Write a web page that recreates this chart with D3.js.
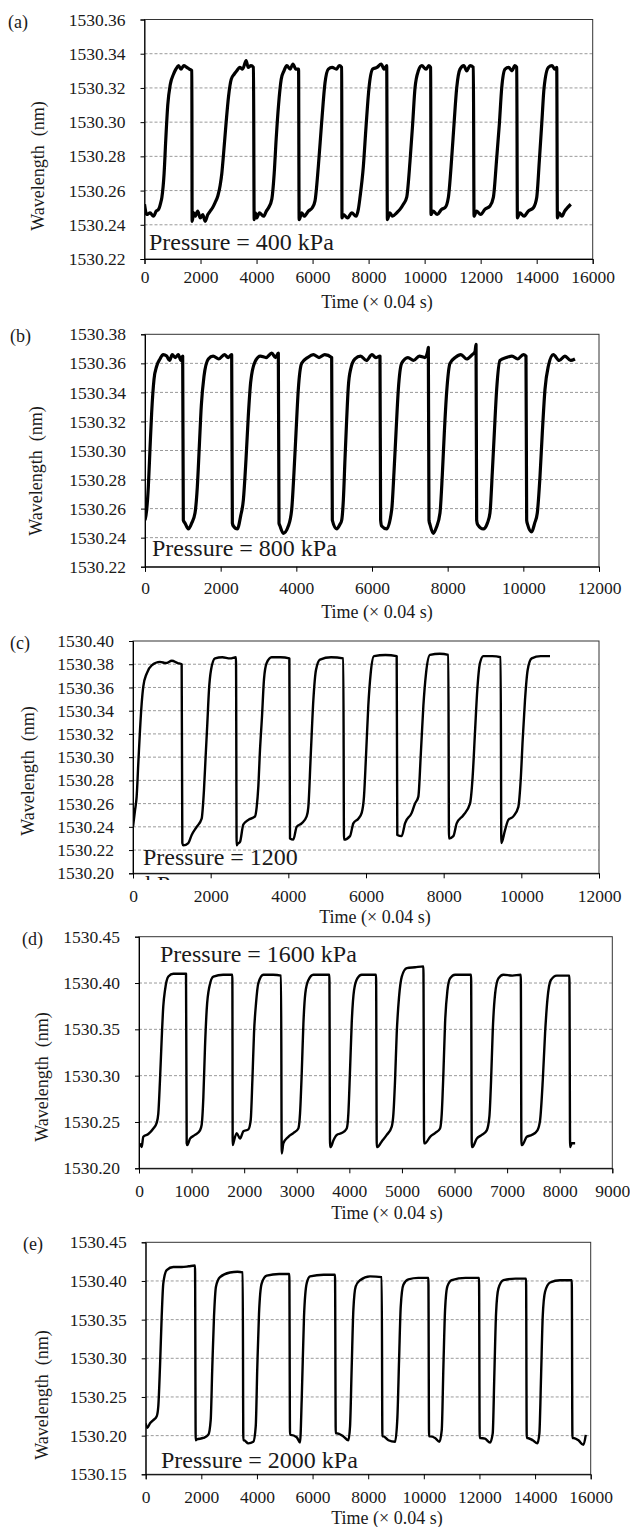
<!DOCTYPE html>
<html>
<head>
<meta charset="utf-8">
<script src="https://cdnjs.cloudflare.com/ajax/libs/d3/7.8.5/d3.min.js"></script>
<style>
body { margin: 0; background: #fff; }
svg text { font-family: "Liberation Serif", "Times New Roman", serif; fill: #1a1a1a; }
</style>
</head>
<body>
<div id="chart"></div>
<script>
// wavelength traces, [time (x 0.04 s), wavelength (nm)]
var seriesA = [[0,1530.252],[80,1530.246],[200,1530.247],[320,1530.245],[420,1530.248],[500,1530.249],[580,1530.253],[620,1530.256],[700,1530.270],[760,1530.290],[830,1530.310],[920,1530.322],[1035,1530.328],[1120,1530.331],[1215,1530.333],[1300,1530.331],[1400,1530.333],[1510,1530.332],[1600,1530.331],[1690,1530.330],
  [1700,1530.242],[1760,1530.247],[1810,1530.245],[1900,1530.248],[1990,1530.244],[2080,1530.246],[2165,1530.242],[2260,1530.246],[2345,1530.248],[2430,1530.250],[2520,1530.253],[2620,1530.257],[2700,1530.263],[2760,1530.270],[2820,1530.281],[2915,1530.300],[3000,1530.315],[3095,1530.325],[3200,1530.328],[3295,1530.330],[3400,1530.332],[3500,1530.331],[3630,1530.336],[3700,1530.332],[3800,1530.333],[3890,1530.332],
  [3915,1530.243],[3960,1530.247],[4010,1530.244],[4100,1530.247],[4250,1530.245],[4350,1530.248],[4430,1530.250],[4545,1530.255],[4630,1530.270],[4700,1530.290],[4785,1530.310],[4880,1530.325],[4980,1530.330],[5080,1530.333],[5200,1530.331],[5300,1530.334],[5400,1530.331],[5500,1530.331],
  [5520,1530.243],[5615,1530.247],[5700,1530.245],[5850,1530.248],[5990,1530.250],[6087,1530.254],[6205,1530.274],[6325,1530.300],[6444,1530.323],[6562,1530.331],[6700,1530.332],[6850,1530.331],[6950,1530.333],[7040,1530.332],
  [7050,1530.244],[7098,1530.246],[7250,1530.244],[7400,1530.247],[7550,1530.245],[7633,1530.249],[7693,1530.256],[7812,1530.274],[7907,1530.297],[8014,1530.320],[8146,1530.331],[8300,1530.332],[8450,1530.334],[8550,1530.331],[8646,1530.333],
  [8670,1530.243],[8760,1530.247],[8850,1530.245],[9002,1530.247],[9120,1530.249],[9240,1530.252],[9359,1530.256],[9478,1530.277],[9573,1530.299],[9657,1530.320],[9776,1530.330],[9900,1530.333],[10050,1530.331],[10150,1530.333],[10216,1530.332],
  [10228,1530.246],[10300,1530.248],[10450,1530.246],[10600,1530.249],[10728,1530.250],[10847,1530.256],[10966,1530.279],[11050,1530.299],[11145,1530.320],[11264,1530.331],[11400,1530.333],[11500,1530.330],[11620,1530.333],[11740,1530.332],
  [11764,1530.245],[11850,1530.248],[12000,1530.246],[12150,1530.249],[12335,1530.251],[12454,1530.256],[12573,1530.279],[12668,1530.299],[12752,1530.320],[12871,1530.331],[13000,1530.332],[13120,1530.330],[13220,1530.333],[13288,1530.332],
  [13312,1530.244],[13400,1530.247],[13550,1530.245],[13700,1530.248],[13883,1530.250],[14002,1530.256],[14097,1530.278],[14181,1530.299],[14264,1530.320],[14418,1530.332],[14550,1530.333],[14650,1530.331],[14716,1530.332],
  [14740,1530.244],[14800,1530.247],[14900,1530.245],[15000,1530.248],[15100,1530.250],[15217,1530.252]];

var seriesB = [[0,1530.252],[44,1530.259],[88,1530.275],[132,1530.301],[176,1530.326],[238,1530.349],[308,1530.358],[396,1530.363],[480,1530.366],[573,1530.365],[650,1530.362],[720,1530.366],[800,1530.364],[880,1530.366],[950,1530.362],[996,1530.365],
  [1013,1530.252],[1057,1530.250],[1145,1530.246],[1233,1530.250],[1322,1530.257],[1383,1530.275],[1436,1530.303],[1489,1530.331],[1559,1530.351],[1674,1530.363],[1800,1530.365],[1950,1530.363],[2100,1530.366],[2200,1530.364],[2291,1530.366],
  [2309,1530.250],[2335,1530.248],[2441,1530.246],[2529,1530.255],[2600,1530.266],[2670,1530.294],[2731,1530.324],[2793,1530.347],[2907,1530.361],[3050,1530.365],[3200,1530.364],[3350,1530.367],[3450,1530.364],[3524,1530.367],
  [3542,1530.250],[3568,1530.248],[3656,1530.243],[3788,1530.248],[3876,1530.259],[3938,1530.285],[3991,1530.312],[4052,1530.342],[4141,1530.360],[4300,1530.364],[4450,1530.366],[4600,1530.364],[4750,1530.366],[4934,1530.364],
  [4951,1530.252],[5067,1530.246],[5150,1530.249],[5199,1530.252],[5243,1530.266],[5286,1530.294],[5330,1530.321],[5374,1530.344],[5436,1530.356],[5550,1530.363],[5700,1530.365],[5850,1530.362],[6000,1530.366],[6100,1530.364],[6211,1530.365],
  [6228,1530.252],[6255,1530.248],[6387,1530.246],[6520,1530.259],[6581,1530.285],[6634,1530.312],[6696,1530.342],[6784,1530.360],[6950,1530.364],[7100,1530.362],[7250,1530.365],[7400,1530.364],[7470,1530.368],[7489,1530.371],
  [7506,1530.252],[7533,1530.249],[7620,1530.243],[7700,1530.247],[7797,1530.257],[7858,1530.283],[7911,1530.312],[7973,1530.340],[8061,1530.360],[8200,1530.364],[8350,1530.366],[8500,1530.363],[8650,1530.366],[8722,1530.368],[8750,1530.373],
  [8766,1530.252],[8793,1530.249],[8942,1530.246],[9050,1530.250],[9118,1530.257],[9180,1530.285],[9233,1530.312],[9295,1530.342],[9383,1530.362],[9550,1530.364],[9700,1530.365],[9850,1530.363],[10000,1530.366],[10070,1530.365],
  [10088,1530.252],[10114,1530.249],[10220,1530.244],[10300,1530.250],[10369,1530.257],[10440,1530.282],[10501,1530.312],[10572,1530.342],[10660,1530.358],[10792,1530.366],[10950,1530.362],[11100,1530.365],[11250,1530.362],[11365,1530.363]];

var seriesC = [[0,1530.240],[51,1530.254],[94,1530.266],[137,1530.295],[180,1530.323],[223,1530.346],[266,1530.361],[352,1530.372],[481,1530.379],[695,1530.382],[850,1530.381],[1000,1530.383],[1150,1530.381],[1253,1530.380],
  [1270,1530.226],[1296,1530.224],[1425,1530.226],[1511,1530.233],[1640,1530.240],[1768,1530.247],[1794,1530.255],[1828,1530.272],[1871,1530.301],[1914,1530.329],[1957,1530.358],[2009,1530.375],[2112,1530.385],[2300,1530.386],[2500,1530.385],[2652,1530.386],
  [2669,1530.224],[2686,1530.225],[2755,1530.227],[2841,1530.242],[2970,1530.246],[3142,1530.249],[3185,1530.257],[3228,1530.275],[3270,1530.306],[3322,1530.335],[3373,1530.367],[3442,1530.381],[3571,1530.386],[3800,1530.386],[4026,1530.385],
  [4043,1530.230],[4128,1530.229],[4214,1530.240],[4343,1530.243],[4472,1530.249],[4515,1530.257],[4575,1530.300],[4644,1530.349],[4712,1530.375],[4815,1530.384],[5100,1530.386],[5416,1530.385],
  [5433,1530.229],[5588,1530.232],[5674,1530.243],[5802,1530.247],[5889,1530.252],[5948,1530.266],[6000,1530.301],[6059,1530.344],[6120,1530.372],[6206,1530.387],[6500,1530.388],[6790,1530.387],
  [6806,1530.233],[6919,1530.232],[7004,1530.243],[7177,1530.252],[7262,1530.260],[7348,1530.266],[7409,1530.301],[7477,1530.344],[7545,1530.372],[7648,1530.388],[7900,1530.389],[8120,1530.388],
  [8137,1530.230],[8249,1530.232],[8335,1530.243],[8506,1530.250],[8678,1530.260],[8746,1530.283],[8806,1530.321],[8866,1530.358],[8935,1530.381],[9021,1530.387],[9250,1530.387],[9467,1530.386],
  [9485,1530.226],[9579,1530.237],[9665,1530.246],[9794,1530.249],[9922,1530.257],[9983,1530.280],[10035,1530.315],[10094,1530.349],[10163,1530.375],[10266,1530.385],[10500,1530.387],[10738,1530.387]];

var seriesD = [[19,1530.227],[51,1530.223],[82,1530.234],[177,1530.237],[273,1530.243],[336,1530.249],[367,1530.259],[399,1530.295],[431,1530.339],[462,1530.375],[494,1530.392],[558,1530.407],[653,1530.410],[780,1530.410],[894,1530.410],
  [907,1530.227],[919,1530.225],[970,1530.232],[1065,1530.236],[1160,1530.241],[1192,1530.247],[1224,1530.277],[1255,1530.331],[1287,1530.371],[1338,1530.396],[1414,1530.407],[1600,1530.409],[1775,1530.409],
  [1782,1530.225],[1794,1530.227],[1858,1530.238],[1921,1530.232],[1985,1530.240],[2080,1530.242],[2124,1530.252],[2156,1530.295],[2187,1530.346],[2225,1530.378],[2270,1530.400],[2365,1530.409],[2550,1530.409],[2701,1530.408],
  [2714,1530.216],[2745,1530.227],[2840,1530.234],[2935,1530.238],[3030,1530.243],[3062,1530.259],[3094,1530.302],[3126,1530.356],[3163,1530.389],[3220,1530.403],[3315,1530.409],[3500,1530.409],[3620,1530.409],
  [3633,1530.223],[3646,1530.223],[3696,1530.230],[3760,1530.236],[3855,1530.238],[3950,1530.243],[3981,1530.259],[4013,1530.306],[4045,1530.357],[4089,1530.392],[4152,1530.405],[4235,1530.409],[4400,1530.409],[4508,1530.409],
  [4521,1530.223],[4533,1530.223],[4616,1530.229],[4711,1530.236],[4806,1530.245],[4838,1530.259],[4869,1530.295],[4901,1530.346],[4945,1530.385],[4997,1530.407],[5092,1530.416],[5250,1530.417],[5408,1530.418],
  [5421,1530.227],[5440,1530.227],[5535,1530.234],[5630,1530.238],[5725,1530.243],[5757,1530.259],[5788,1530.302],[5820,1530.357],[5865,1530.392],[5915,1530.405],[6010,1530.409],[6200,1530.409],[6315,1530.409],
  [6328,1530.223],[6340,1530.223],[6423,1530.232],[6518,1530.236],[6613,1530.241],[6663,1530.256],[6695,1530.295],[6727,1530.349],[6771,1530.388],[6834,1530.405],[6929,1530.409],[7100,1530.408],[7260,1530.409],
  [7272,1530.225],[7285,1530.225],[7374,1530.234],[7469,1530.236],[7576,1530.241],[7627,1530.252],[7678,1530.295],[7722,1530.346],[7766,1530.382],[7830,1530.403],[7944,1530.408],[8100,1530.408],[8184,1530.408],
  [8198,1530.223],[8230,1530.227],[8293,1530.227]];

var seriesE = [[0,1530.216],[58,1530.210],[155,1530.216],[273,1530.220],[396,1530.225],[453,1530.238],[514,1530.289],[575,1530.354],[633,1530.397],[755,1530.414],[993,1530.418],[1300,1530.418],[1550,1530.419],[1773,1530.420],
  [1798,1530.194],[1834,1530.195],[2071,1530.197],[2251,1530.201],[2337,1530.220],[2395,1530.289],[2456,1530.354],[2528,1530.393],[2672,1530.405],[3031,1530.411],[3300,1530.412],[3488,1530.411],
  [3510,1530.194],[3535,1530.194],[3690,1530.190],[3869,1530.192],[3956,1530.212],[4013,1530.289],[4074,1530.358],[4171,1530.397],[4351,1530.407],[4800,1530.409],[5164,1530.409],
  [5189,1530.201],[5213,1530.201],[5429,1530.198],[5549,1530.191],[5609,1530.246],[5692,1530.354],[5789,1530.397],[5908,1530.406],[6400,1530.408],[6807,1530.408],
  [6833,1530.203],[6868,1530.203],[7107,1530.199],[7287,1530.194],[7347,1530.212],[7407,1530.289],[7467,1530.363],[7551,1530.393],[7706,1530.401],[8066,1530.406],[8486,1530.405],
  [8510,1530.199],[8546,1530.199],[8726,1530.194],[8966,1530.192],[9050,1530.224],[9110,1530.298],[9170,1530.367],[9265,1530.395],[9445,1530.402],[9800,1530.404],[10164,1530.404],
  [10188,1530.199],[10224,1530.199],[10404,1530.197],[10560,1530.192],[10644,1530.207],[10704,1530.289],[10764,1530.363],[10847,1530.393],[11004,1530.401],[11500,1530.404],[11985,1530.404],
  [12009,1530.197],[12033,1530.197],[12201,1530.196],[12381,1530.191],[12477,1530.203],[12537,1530.281],[12597,1530.358],[12681,1530.390],[12861,1530.401],[13300,1530.403],[13676,1530.403],
  [13700,1530.197],[13724,1530.197],[13916,1530.194],[14083,1530.190],[14155,1530.203],[14215,1530.276],[14275,1530.354],[14359,1530.386],[14539,1530.398],[14900,1530.401],[15319,1530.401],
  [15343,1530.197],[15379,1530.197],[15559,1530.194],[15739,1530.188],[15823,1530.201]];

// tick values of each panel
var yTicksA = [1530.22, 1530.24, 1530.26, 1530.28, 1530.30, 1530.32, 1530.34, 1530.36];
var yTicksB = [1530.22, 1530.24, 1530.26, 1530.28, 1530.30, 1530.32, 1530.34, 1530.36, 1530.38];
var yTicksC = [1530.20, 1530.22, 1530.24, 1530.26, 1530.28, 1530.30, 1530.32, 1530.34, 1530.36, 1530.38, 1530.40];
var yTicksD = [1530.20, 1530.25, 1530.30, 1530.35, 1530.40, 1530.45];
var yTicksE = [1530.15, 1530.20, 1530.25, 1530.30, 1530.35, 1530.40, 1530.45];
var xTicks16k = [0, 2000, 4000, 6000, 8000, 10000, 12000, 14000, 16000];
var xTicks12k = [0, 2000, 4000, 6000, 8000, 10000, 12000];
var xTicks9k = [0, 1000, 2000, 3000, 4000, 5000, 6000, 7000, 8000, 9000];

var panelLabels = ["(a)", "(b)", "(c)", "(d)", "(e)"];
var notes = ["Pressure = 400 kPa", "Pressure = 800 kPa", "Pressure = 1200", "Pressure = 1600 kPa", "Pressure = 2000 kPa"];
var yTitle = "Wavelength  (nm)";
var xTitle = "Time (\u00d7 0.04 s)";

// where each panel sits on the page
var layout = [
  {data: seriesA, yt: yTicksA, xt: xTicks16k, l: 144.5, t: 19.5, r: 592.7, b: 259, labX: 8, ylx: 38, yly: 166, xtx: 377, xty: 302, gap: 18, nx: 149, ny: 250, lw: 3.2},
  {data: seriesB, yt: yTicksB, xt: xTicks12k, l: 145, t: 334.3, r: 599, b: 566.7, labX: 10, ylx: 36, yly: 471, xtx: 377, xty: 612, gap: 21, nx: 152, ny: 556, lw: 3.2},
  {data: seriesC, yt: yTicksC, xt: xTicks12k, l: 133, t: 641, r: 599, b: 873.3, labX: 10, ylx: 28, yly: 771, xtx: 375, xty: 917, gap: 22, nx: 143, ny: 865, lw: 2.4},
  {data: seriesD, yt: yTicksD, xt: xTicks9k, l: 139, t: 936.7, r: 612.3, b: 1168.3, labX: 22, ylx: 42, yly: 1077, xtx: 387, xty: 1213, gap: 22, nx: 160, ny: 962, lw: 2.4},
  {data: seriesE, yt: yTicksE, xt: xTicks16k, l: 145.7, t: 1242.3, r: 590.7, b: 1474.3, labX: 23, ylx: 42, yly: 1395, xtx: 387, xty: 1518, gap: 22.5, nx: 161, ny: 1468, lw: 2.4}
];

var svg = d3.select("#chart").append("svg")
    .attr("width", 630)
    .attr("height", 1527);

svg.append("rect").attr("width", 630).attr("height", 1527).attr("fill", "#fff");

layout.forEach(function(p, i) {
    var x = d3.scaleLinear().domain([p.xt[0], p.xt[p.xt.length - 1]]).range([p.l, p.r]);
    var y = d3.scaleLinear().domain([p.yt[0], p.yt[p.yt.length - 1]]).range([p.b, p.t]);
    var g = svg.append("g");

    //dashed grid lines on the inner ticks
    g.selectAll(".grid")
        .data(p.yt.slice(1, -1))
        .enter()
        .append("line")
        .attr("x1", p.l).attr("x2", p.r)
        .attr("y1", function(d) { return y(d); })
        .attr("y2", function(d) { return y(d); })
        .style("stroke", "#9a9a9a")
        .style("stroke-width", 1)
        .style("stroke-dasharray", "3,2");

    //clip the trace to the plot area
    var clipId = "clip" + i;
    svg.append("clipPath").attr("id", clipId)
        .append("rect")
        .attr("x", p.l).attr("y", p.t)
        .attr("width", p.r - p.l).attr("height", p.b - p.t);

    var line = d3.line()
        .curve(d3.curveMonotoneX)
        .x(function(d) { return x(d[0]); })
        .y(function(d) { return y(d[1]); });

    g.append("path")
        .datum(p.data)
        .attr("clip-path", "url(#" + clipId + ")")
        .attr("d", line)
        .style("fill", "none")
        .style("stroke", "#000")
        .style("stroke-width", p.lw)
        .style("stroke-linejoin", "round");

    //frame round the plot area
    g.append("rect")
        .attr("x", p.l).attr("y", p.t)
        .attr("width", p.r - p.l).attr("height", p.b - p.t)
        .style("fill", "none")
        .style("stroke", "#333")
        .style("stroke-width", 1);

    //axes
    var yAxis = d3.axisLeft(y).tickValues(p.yt).tickFormat(d3.format(".2f")).tickSizeOuter(0).tickSize(4).tickPadding(15);
    var xAxis = d3.axisBottom(x).tickValues(p.xt).tickFormat(d3.format("d")).tickSizeOuter(0).tickSize(5).tickPadding(p.gap - 11);

    var ya = g.append("g").attr("transform", "translate(" + p.l + ",0)").call(yAxis);
    var xa = g.append("g").attr("transform", "translate(0," + p.b + ")").call(xAxis);
    [ya, xa].forEach(function(a) {
        a.select(".domain").style("stroke", "#000");
        a.selectAll(".tick line").style("stroke", "#000");
        a.selectAll("text")
            .style("font-family", "'Liberation Serif', serif")
            .style("font-size", "17.5px")
            .style("fill", "#1a1a1a");
    });

    //panel letter
    g.append("text")
        .attr("x", p.labX).attr("y", p.t + 8)
        .style("font-size", "18px")
        .text(panelLabels[i]);

    //axis titles
    g.append("text")
        .attr("transform", "translate(" + p.ylx + "," + p.yly + ") rotate(-90)")
        .attr("text-anchor", "middle")
        .attr("dy", "0.35em")
        .style("font-size", "18px")
        .style("white-space", "pre")
        .text(yTitle);

    g.append("text")
        .attr("x", p.xtx).attr("y", p.xty)
        .attr("text-anchor", "middle")
        .attr("dy", "0.35em")
        .style("font-size", "18px")
        .text(xTitle);

    //pressure note
    g.append("text")
        .attr("x", p.nx).attr("y", p.ny)
        .style("font-size", "24px")
        .text(notes[i]);
});

// second line of the (c) note, cut off under the axis
svg.append("clipPath").attr("id", "kpaClip")
    .append("rect").attr("x", 140).attr("y", 875).attr("width", 60).attr("height", 5);
svg.append("text")
    .attr("x", 145).attr("y", 892)
    .attr("clip-path", "url(#kpaClip)")
    .style("font-size", "24px")
    .text("kPa");
</script>
</body>
</html>
